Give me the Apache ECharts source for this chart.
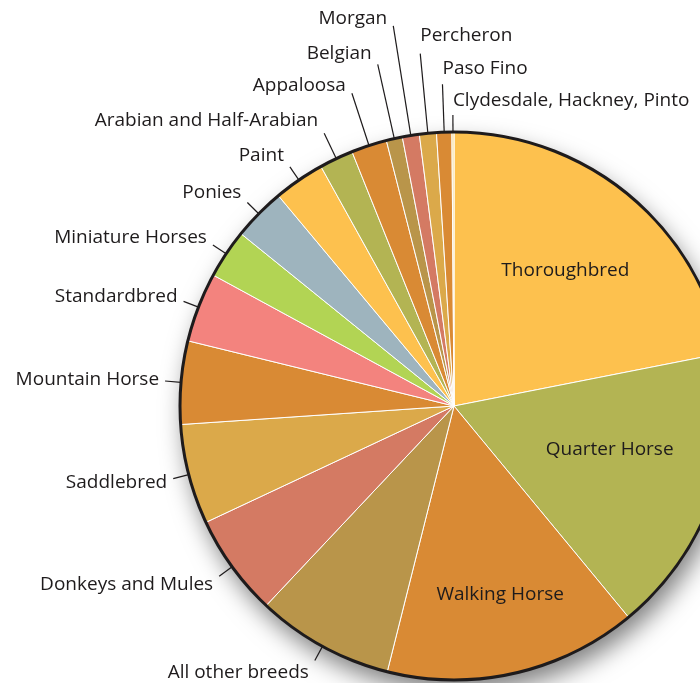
<!DOCTYPE html>
<html><head><meta charset="utf-8">
<script src="https://cdn.jsdelivr.net/npm/echarts@6/dist/echarts.min.js"></script>
<style>html,body{margin:0;padding:0;background:#fff}#c{width:700px;height:683px}</style>
</head><body><div id="c"></div>
<script>
// ---- data (shares in percent, clockwise from 12 o'clock) ----
const breeds = ['Thoroughbred', 'Quarter Horse', 'Walking Horse', 'All other breeds',
  'Donkeys and Mules', 'Saddlebred', 'Mountain Horse', 'Standardbred', 'Miniature Horses',
  'Ponies', 'Paint', 'Arabian and Half-Arabian', 'Appaloosa', 'Belgian', 'Morgan',
  'Percheron', 'Paso Fino', 'Clydesdale, Hackney, Pinto'];
const shares = [21.9, 17.1, 14.9, 8.1, 6.0, 5.9, 4.9, 4.1, 2.9, 3.1, 3.0, 2.0, 2.1, 0.95, 1.0, 1.0, 0.9, 0.12];

// ---- styles ----
const sliceColors = ['#FDC14E', '#B3B453', '#D98A34', '#B9954A', '#D47A63', '#DBA94A',
  '#D98A34', '#F3837E', '#B2D454', '#9EB4BE', '#FDC14E', '#B3B453', '#D98A34', '#B9954A',
  '#D47A63', '#DBA94A', '#D98A34', '#F6D98E'];
const insideLabelRadius = { 'Thoroughbred': 0.64, 'Quarter Horse': 0.59, 'Walking Horse': 0.71 };
const insideLabelTurn = { 'Thoroughbred': 0, 'Quarter Horse': -4, 'Walking Horse': -1 };
const leaderLength = { 'Arabian and Half-Arabian': 28, 'Appaloosa': 55, 'Belgian': 76,
  'Morgan': 111, 'Percheron': 80, 'Paso Fino': 48, 'Clydesdale, Hackney, Pinto': 17 };
const labelLift = { 'Morgan': 7, 'Percheron': 18, 'Paso Fino': 16, 'Appaloosa': 8, 'Belgian': 11 };
const rightSide = ['Percheron', 'Paso Fino', 'Clydesdale, Hackney, Pinto'];
const CX = 454, CY = 406, R = 274;
const INK = '#1E1B1C';
const FONT = 'Open Sans';

const data = breeds.map((b, i) => ({
  name: b,
  value: shares[i],
  itemStyle: { color: sliceColors[i] },
  label: { position: insideLabelRadius[b] != null ? 'inside' : 'outside' },
  labelLine: { show: insideLabelRadius[b] == null, length: leaderLength[b] || 16, length2: 0 }
}));

const chart = echarts.init(document.getElementById('c'), null, { renderer: 'canvas' });
chart.setOption({
  animation: false,
  backgroundColor: '#fff',
  series: [
    { // shadow disc
      type: 'pie', z: 1, silent: true, center: [CX, CY], radius: R,
      label: { show: false }, labelLine: { show: false }, emphasis: { disabled: true },
      itemStyle: { color: '#fff', shadowBlur: 24, shadowOffsetX: 5, shadowOffsetY: 12, shadowColor: 'rgba(0,0,0,0.5)' },
      data: [{ value: 1 }]
    },
    {
      type: 'pie', z: 2, center: [CX, CY], radius: R, startAngle: 90, clockwise: true,
      avoidLabelOverlap: false, emphasis: { disabled: true },
      itemStyle: { borderColor: '#fff', borderWidth: 1 },
      label: { show: true, formatter: '{b}', color: INK, fontFamily: FONT, fontSize: 19, distanceToLabelLine: 6 },
      labelLine: { lineStyle: { color: INK, width: 1.2 } },
      labelLayout: function (p) {
        const name = breeds[p.dataIndex];
        const lr = p.labelRect;
        if (insideLabelRadius[name] != null) {
          const lx = lr.x + lr.width / 2, ly = lr.y + lr.height / 2;
          const ang = Math.atan2(ly - CY, lx - CX) + (insideLabelTurn[name] || 0) * Math.PI / 180;
          const d = insideLabelRadius[name] * R;
          return { x: CX + Math.cos(ang) * d, y: CY + Math.sin(ang) * d, align: 'center', verticalAlign: 'middle' };
        }
        const pts = p.labelLinePoints;
        if (!pts) return {};
        const a = pts[0], b = pts[1];
        const ux = b[0] - a[0], uy = b[1] - a[1], len = Math.hypot(ux, uy) || 1;
        const dy = uy / len;
        const right = rightSide.indexOf(name) >= 0;
        const lift = labelLift[name] != null ? labelLift[name] * Math.sign(dy) : 14 * dy;
        return {
          x: b[0] + (right ? 0 : -6), y: b[1] + lift,
          align: right ? 'left' : 'right', verticalAlign: 'middle',
          labelLinePoints: pts
        };
      },
      data: data
    },
    { // outline ring
      type: 'pie', z: 3, silent: true, center: [CX, CY], radius: R,
      label: { show: false }, labelLine: { show: false }, emphasis: { disabled: true },
      itemStyle: { color: 'rgba(0,0,0,0)', borderColor: INK, borderWidth: 3 },
      data: [{ value: 1 }]
    }
  ]
});
</script></body></html>
